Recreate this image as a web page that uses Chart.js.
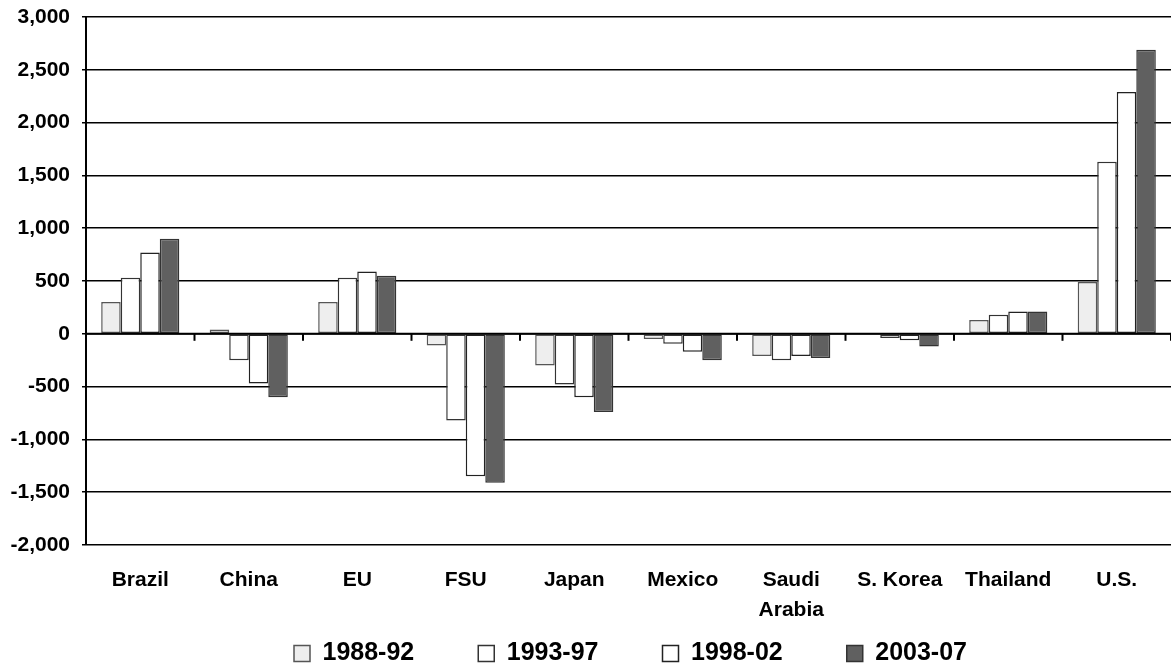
<!DOCTYPE html>
<html>
<head>
<meta charset="utf-8">
<script src="https://cdn.jsdelivr.net/npm/chart.js@4.4.1/dist/chart.umd.min.js"></script>
<style>
html,body{margin:0;padding:0;background:#fff;}
#wrap{width:1171px;height:666px;position:relative;}
</style>
</head>
<body>
<div id="wrap"><canvas id="c" width="1171" height="666"></canvas></div>
<script>
const categories = ['Brazil', 'China', 'EU', 'FSU', 'Japan', 'Mexico', ['Saudi', 'Arabia'], 'S. Korea', 'Thailand', 'U.S.'];
const seriesNames = ['1988-92', '1993-97', '1998-02', '2003-07'];
const v1988_92 = [300, 40, 300, -110, -300, -50, -210, 0, 130, 490];
const v1993_97 = [530, -250, 530, -820, -480, -95, -250, -40, 180, 1630];
const v1998_02 = [770, -470, 590, -1350, -600, -170, -210, -60, 210, 2290];
const v2003_07 = [900, -600, 550, -1410, -740, -250, -230, -120, 210, 2690];
const yMin = -2000, yMax = 3000, yStep = 500;

const fills = ['#eeeeee', '#ffffff', '#ffffff', '#606060'];
const borders = ['#555555', '#333333', '#222222', '#333333'];
const values = [v1988_92, v1993_97, v1998_02, v2003_07];

const tickFont = {family: '"Liberation Sans", Arial, sans-serif', size: 21, weight: 'bold'};

const xTickMarks = {
  id: 'xTickMarks',
  afterDatasetsDraw(chart) {
    const x = chart.scales.x, y = chart.scales.y, ctx = chart.ctx;
    const y0 = y.getPixelForValue(0);
    ctx.save();
    ctx.strokeStyle = '#000';
    ctx.lineWidth = 2;
    ctx.beginPath();
    ctx.moveTo(chart.chartArea.left, y0);
    ctx.lineTo(chart.chartArea.right, y0);
    ctx.stroke();
    for (let i = 0; i < categories.length; i++) {
      const bx = (x.getPixelForValue(i) + x.getPixelForValue(i + 1)) / 2;
      ctx.beginPath();
      ctx.moveTo(bx, y0);
      ctx.lineTo(bx, y0 + 7);
      ctx.stroke();
    }
    ctx.restore();
  }
};

const legendShift = {
  id: 'legendShift',
  afterLayout(chart) {
    const lg = chart.legend;
    lg.left += 42; lg.right += 42;
    lg.top = 577; lg.bottom = 666;
  }
};

new Chart(document.getElementById('c'), {
  type: 'bar',
  data: {
    labels: categories,
    datasets: seriesNames.map((n, i) => ({
      label: n,
      data: values[i],
      backgroundColor: fills[i],
      borderColor: borders[i],
      borderWidth: 1.5,
      borderSkipped: false,
      categoryPercentage: 0.72,
      barPercentage: 1.0
    }))
  },
  options: {
    responsive: false,
    animation: false,
    devicePixelRatio: 1,
    layout: {padding: {top: 17, right: -6, left: 0, bottom: 0}},
    plugins: {
      tooltip: {enabled: false},
      legend: {
        position: 'bottom',
        maxHeight: 50,
        labels: {
          color: '#000',
          boxWidth: 16,
          boxHeight: 16,
          padding: 64,
          font: {family: '"Liberation Sans", Arial, sans-serif', size: 25, weight: 'bold'}
        }
      }
    },
    scales: {
      x: {
        grid: {display: false, drawTicks: false},
        border: {display: false},
        ticks: {color: '#000', font: Object.assign({lineHeight: 1.42}, tickFont), padding: 20, maxRotation: 0, autoSkip: false},
        afterFit(s) { s.height = 71; s.paddingLeft = 0; s.paddingRight = 0; }
      },
      y: {
        min: yMin, max: yMax,
        ticks: {stepSize: yStep, color: '#000', font: tickFont, padding: 12,
          callback: v => v.toLocaleString('en-US')},
        grid: {color: '#000', lineWidth: 1.5, tickLength: 4, tickColor: '#000'},
        border: {color: '#000', width: 2},
        afterFit(s) { s.width = 86; s.paddingTop = 0; s.paddingBottom = 0; }
      }
    }
  },
  plugins: [xTickMarks, legendShift]
});
</script>
</body>
</html>
